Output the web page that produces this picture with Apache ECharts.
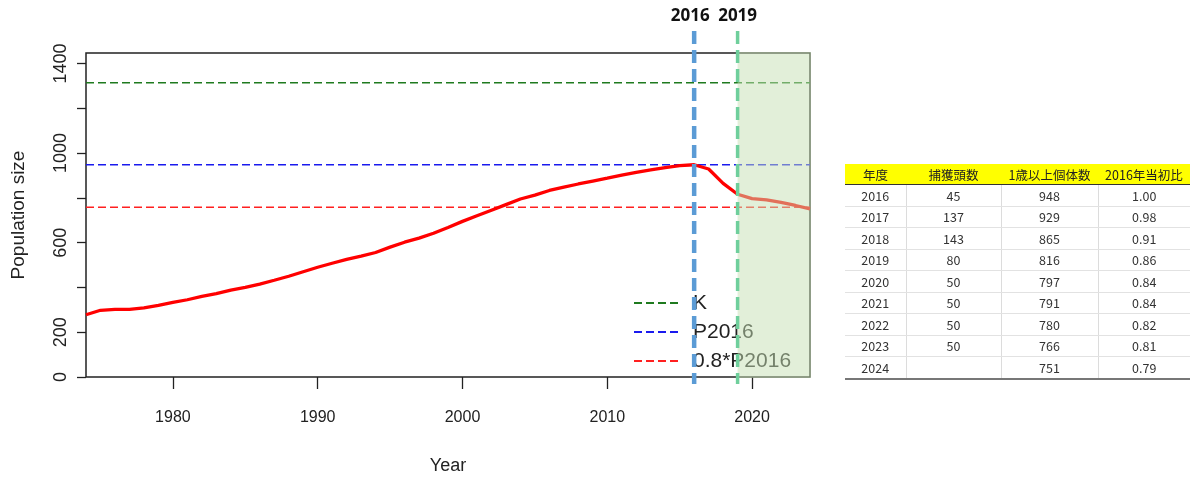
<!DOCTYPE html>
<html>
<head>
<meta charset="utf-8">
<script src="https://cdn.jsdelivr.net/npm/echarts@6/dist/echarts.min.js"></script>
<style>
  html, body { margin: 0; padding: 0; background: #fff; }
  #chart { position: absolute; left: 0; top: 0; width: 1195px; height: 480px; }
  #tbl { position: absolute; left: 845px; top: 164px; border-collapse: collapse; table-layout: fixed;
         font-family: "Noto Sans CJK JP", "Noto Sans", sans-serif; font-size: 12.5px; color: #333; }
  #tbl th { background: #ffff00; font-weight: normal; color: #222; height: 20px; padding: 0; border-bottom: 1.5px solid #333; }
  #tbl td { height: 20.5px; padding: 0; text-align: center; border-bottom: 1px solid #e2e2e2; border-left: 1px solid #dcdcdc; }
  #tbl td:first-child { border-left: none; }
  #tbl tr:last-child td { border-bottom: 2px solid #777; }
</style>
</head>
<body>
<div id="chart"></div>
<table id="tbl"></table>
<script>
// ---- data ----
var years = [1974,1975,1976,1977,1978,1979,1980,1981,1982,1983,1984,1985,1986,1987,1988,1989,
  1990,1991,1992,1993,1994,1995,1996,1997,1998,1999,2000,2001,2002,2003,2004,2005,2006,2007,2008,2009,
  2010,2011,2012,2013,2014,2015,2016,2017,2018,2019,2020,2021,2022,2023,2024];
var population = [278,298,302,302,309,320,333,345,360,372,388,400,415,432,450,470,
  490,508,525,540,556,580,602,620,642,668,695,720,745,770,795,812,833,848,862,875,
  888,902,914,925,935,944,948,929,865,816,797,791,780,766,751];
var refNames = ['K', 'P2016', '0.8*P2016'];
var refValues = [1314, 948, 758.4];
var markYears = [2016, 2019];
var markLabels = ['2016', '2019'];
var shadeRange = [2019, 2024];
var xRange = [1974, 2024];
var yRange = [0, 1447];
var xTicks = [1980, 1990, 2000, 2010, 2020];
var yTicks = [0, 200, 400, 600, 800, 1000, 1200, 1400];
var yLabelTicks = [0, 200, 600, 1000, 1400];

var tableHeader = ['年度', '捕獲頭数', '1歳以上個体数', '2016年当初比'];
var tableYears = ['2016','2017','2018','2019','2020','2021','2022','2023','2024'];
var tableCatch = ['45','137','143','80','50','50','50','50',''];
var tablePop = ['948','929','865','816','797','791','780','766','751'];
var tableRatio = ['1.00','0.98','0.91','0.86','0.84','0.84','0.82','0.81','0.79'];

// ---- table ----
(function(){
  var widths = [61, 95, 97, 92];
  var t = document.getElementById('tbl');
  var cg = '<colgroup>' + widths.map(function(w){return '<col style="width:'+w+'px">';}).join('') + '</colgroup>';
  var h = '<tr>' + tableHeader.map(function(s){return '<th>'+s+'</th>';}).join('') + '</tr>';
  var rows = tableYears.map(function(y, i){
    return '<tr><td>'+y+'</td><td>'+tableCatch[i]+'</td><td>'+tablePop[i]+'</td><td>'+tableRatio[i]+'</td></tr>';
  }).join('');
  t.innerHTML = cg + h + rows;
})();

// ---- chart ----
var refColors = ['#1f7a1f', '#1a1aee', '#ff2020'];
var markColors = ['#5b9bd5', '#6fcf9c'];
var markLabelShift = [-4, 0];
var chart = echarts.init(document.getElementById('chart'), null, {renderer: 'canvas'});
var plain = function(v){ return String(v); };

var series = [{
  name: 'Population',
  type: 'line',
  data: years.map(function(y, i){ return [y, population[i]]; }),
  symbol: 'none',
  lineStyle: {color: '#ff0000', width: 3.3},
  z: 3
}];
refNames.forEach(function(n, i){
  series.push({
    name: n,
    type: 'line',
    data: [[xRange[0], refValues[i]], [xRange[1], refValues[i]]],
    symbol: 'none',
    itemStyle: {color: refColors[i]},
    lineStyle: {color: refColors[i], width: 1.6, type: [8, 4]},
    z: 2
  });
});
// shaded projection region
series.push({
  name: 'shade',
  type: 'custom',
  data: [[shadeRange[0], shadeRange[1]]],
  z: 10,
  silent: true,
  renderItem: function(params, api){
    var cs = params.coordSys;
    var x1 = api.coord([api.value(0), 0])[0];
    var x2 = api.coord([api.value(1), 0])[0];
    return {type: 'rect', shape: {x: x1, y: cs.y - 1, width: x2 - x1 + 1, height: cs.height + 2},
            style: {fill: 'rgba(197,224,180,0.5)'}};
  }
});
// vertical markers
series.push({
  name: 'marks',
  type: 'custom',
  data: markYears.map(function(y){ return [y]; }),
  z: 11,
  silent: true,
  renderItem: function(params, api){
    var cs = params.coordSys;
    var x = api.coord([api.value(0), 0])[0];
    var i = params.dataIndex;
    return {type: 'group', children: [
      {type: 'line', shape: {x1: x, y1: cs.y - 22, x2: x, y2: cs.y + cs.height + 7},
       style: {stroke: markColors[i], lineWidth: i === 0 ? 4.5 : 3.5, lineDash: [13, 6]}},
      {type: 'text', style: {text: markLabels[i], x: x + markLabelShift[i], y: cs.y - 37, align: 'center', verticalAlign: 'middle',
        font: 'bold 17px "Noto Sans", "DejaVu Sans", sans-serif', fill: '#111'}}
    ]};
  }
});

chart.setOption({
  animation: false,
  backgroundColor: '#fff',
  grid: {left: 86, top: 53, width: 724, height: 326, show: true, borderColor: '#222', borderWidth: 1.5, backgroundColor: 'transparent'},
  legend: {
    data: refNames,
    orient: 'vertical',
    left: 628,
    top: 286,
    itemWidth: 44,
    itemHeight: 12,
    itemGap: 5,
    z: 4,
    selectedMode: false,
    itemStyle: {opacity: 0},
    textStyle: {fontFamily: '"Liberation Sans", Arial, sans-serif', fontSize: 21, color: '#222', lineHeight: 24, padding: [0, 0, 0, 10]}
  },
  xAxis: {
    type: 'value', min: xRange[0], max: xRange[1],
    name: 'Year', nameLocation: 'middle', nameGap: 80,
    nameTextStyle: {fontFamily: '"Liberation Sans", Arial, sans-serif', fontSize: 18, color: '#222'},
    axisLine: {show: false},
    axisTick: {show: true, length: 12, lineStyle: {color: '#222', width: 1.3}, customValues: xTicks},
    axisLabel: {customValues: xTicks, margin: 33, formatter: plain, fontFamily: '"Liberation Sans", Arial, sans-serif', fontSize: 16, color: '#222'},
    splitLine: {show: false}
  },
  yAxis: {
    type: 'value', min: yRange[0], max: yRange[1],
    name: 'Population size', nameLocation: 'middle', nameGap: 58, nameRotate: 90,
    nameTextStyle: {fontFamily: '"Liberation Sans", Arial, sans-serif', fontSize: 19, color: '#222'},
    axisLine: {show: false},
    axisTick: {show: true, length: 9, lineStyle: {color: '#222', width: 1.3}, customValues: yTicks},
    axisLabel: {customValues: yLabelTicks, rotate: 90, margin: 16, formatter: plain, fontFamily: '"Liberation Sans", Arial, sans-serif', fontSize: 18, color: '#222'},
    splitLine: {show: false}
  },
  series: series
});
</script>
</body>
</html>
